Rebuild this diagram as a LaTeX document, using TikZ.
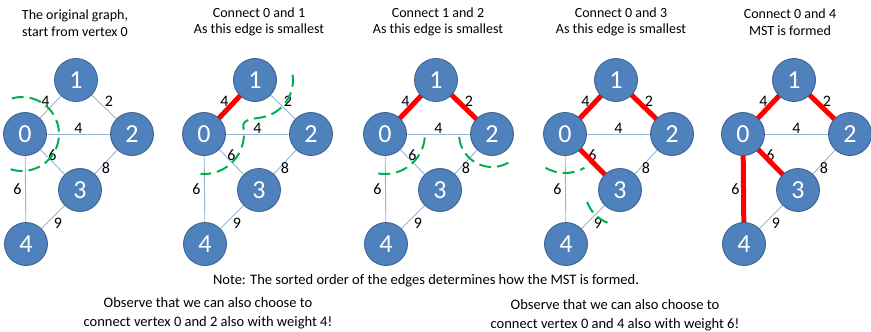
\documentclass[tikz,border=0pt]{standalone}
\usepackage{fontspec}
\setmainfont{Carlito}
\usetikzlibrary{backgrounds}
\definecolor{vblue}{RGB}{79,129,189}
\definecolor{vborder}{RGB}{56,93,138}
\definecolor{eline}{RGB}{150,180,218}
\definecolor{cutgreen}{RGB}{0,176,80}
\tikzset{
  vertex/.style={circle, fill=vblue, draw=vborder, line width=0.8pt, minimum size=43pt,
    inner sep=0pt, text=white, font=\fontsize{26}{26}\selectfont},
  edgeline/.style={draw=eline, line width=0.9pt},
  chosen/.style={draw=red, line width=5pt, shorten <=-4pt, shorten >=-4pt},
  cut/.style={draw=cutgreen, line width=2pt, dash pattern=on 12pt off 6pt},
  wt/.style={font=\fontsize{16}{16}\selectfont, inner sep=0.5pt},
  caption/.style={align=center, font=\fontsize{14}{16.5}\selectfont},
  note/.style={align=center, font=\fontsize{14.5}{18.5}\selectfont}
}

\begin{document}
\begin{tikzpicture}[x=1pt,y=1pt]
\useasboundingbox (0,0) rectangle (871,-332);
\foreach \p/\dx in {a/0,b/179,c/360,d/540,e/718}{
  \node[vertex] (\p1) at (\dx+76,-80) {1};
  \node[vertex] (\p0) at (\dx+25,-134) {0};
  \node[vertex] (\p2) at (\dx+132,-134) {2};
  \node[vertex] (\p3) at (\dx+80,-190) {3};
  \node[vertex] (\p4) at (\dx+26,-244) {4};
  \begin{scope}[on background layer]
    \draw[edgeline] (\p0) -- node[wt, above left] {4} (\p1);
    \draw[edgeline] (\p1) -- node[wt, above right] {2} (\p2);
    \draw[edgeline] (\p0) -- node[wt, above] {4} (\p2);
    \draw[edgeline] (\p0) -- node[wt, above] {6} (\p3);
    \draw[edgeline] (\p2) -- node[wt, below] {8} (\p3);
    \draw[edgeline] (\p0) -- node[wt, left=3pt] {6} (\p4);
    \draw[edgeline] (\p3) -- node[wt, below right] {9} (\p4);
  \end{scope}
}
\begin{scope}[on background layer]
  \draw[chosen] (b0) -- (b1);
  \draw[chosen] (c0) -- (c1);
  \draw[chosen] (c1) -- (c2);
  \draw[chosen] (d0) -- (d1);
  \draw[chosen] (d1) -- (d2);
  \draw[chosen] (d0) -- (d3);
  \draw[chosen] (e0) -- (e1);
  \draw[chosen] (e1) -- (e2);
  \draw[chosen] (e0) -- (e3);
  \draw[chosen] (e0) -- (e4);
\end{scope}
\draw[cut] ([shift={(106:37)}]22,-134) arc[start angle=106, end angle=-115, radius=37pt];
\draw[cut] ([shift={(8:38)}]255,-80) arc[start angle=8, end angle=-80, radius=38pt]
  to[out=190, in=100] ([shift={(10:40)}]204,-134) arc[start angle=10, end angle=-95, radius=40pt];
\draw[cut] ([shift={(-5:40)}]385,-134) arc[start angle=-5, end angle=-107, radius=40pt];
\draw[cut] ([shift={(185:33)}]492,-134) arc[start angle=185, end angle=300, radius=33pt];
\draw[cut] ([shift={(240:39)}]565,-134) arc[start angle=240, end angle=300, radius=39pt];
\draw[cut] ([shift={(200:35)}]620,-190) arc[start angle=200, end angle=258, radius=35pt];
\node[caption] (ta) at (75,-23) {The original graph,\\start from vertex 0};
\node[caption] (tb) at (259,-22) {Connect 0 and 1\\As this edge is smallest};
\node[caption] (tc) at (438,-22) {Connect 1 and 2\\As this edge is smallest};
\node[caption] (td) at (621,-22) {Connect 0 and 3\\As this edge is smallest};
\node[caption] (te) at (790,-22) {Connect 0 and 4\\MST is formed};
\node[note] (sorted) at (426,-281) {Note: The sorted order of the edges determines how the MST is formed.};
\node[note] (alt02) at (208,-313) {Observe that we can also choose to\\connect vertex 0 and 2 also with weight 4!};
\node[note] (alt04) at (615,-315) {Observe that we can also choose to\\connect vertex 0 and 4 also with weight 6!};
\end{tikzpicture}
\end{document}
